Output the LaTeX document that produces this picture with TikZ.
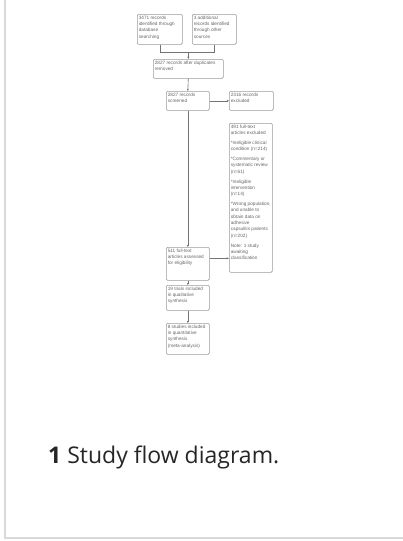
\documentclass[tikz,border=0pt]{standalone}
\usepackage{fontspec}
\setmainfont{Liberation Sans}
\newfontfamily\capfont{Open Sans}
\usetikzlibrary{arrows.meta}
\newcommand{\bxt}[3]{\parbox[c][#2][t]{#1}{\raggedright #3}}
\newcommand{\pgap}{\par\vspace{3.6pt}}
\begin{document}
\begin{tikzpicture}[x=1pt,y=-1pt,
  box/.style={draw=black!40, line width=0.6pt, rounded corners=1.2pt, inner sep=1.5pt,
    anchor=north west, font=\fontsize{4.7}{6.3}\selectfont, text=black!60},
  arr/.style={draw=black!55, line width=0.6pt, -{Stealth[length=2.4pt,width=2pt]}},
  ln/.style={draw=black!55, line width=0.6pt}]
\useasboundingbox (0,0) rectangle (403,541);
\draw[line width=2pt, color=black!15] (5,0) -- (5,538) -- (403,538);

\node[box] (A) at (137,14) {\bxt{42pt}{27pt}{3471 records\\ identified through\\ database\\ searching}};
\node[box] (B) at (192,14) {\bxt{41pt}{27pt}{3 additional\\ records identified\\ through other\\ sources}};
\node[box] (C) at (153,59) {\bxt{67pt}{16pt}{2827 records after duplicates\\ removed}};
\node[box] (D) at (166,91) {\bxt{40pt}{16pt}{2827 records\\ screened}};
\node[box] (E) at (229,91) {\bxt{41pt}{16pt}{2316 records\\ excluded}};
\node[box] (F) at (229,123) {\bxt{40pt}{146pt}{491 full-text\\ articles excluded\pgap
*Ineligible clinical\\ condition (n=214)\pgap
*Commentary or\\ systematic review\\ (n=61)\pgap
*Ineligible\\ intervention\\ (n=14)\pgap
*Wrong population,\\ and unable to\\ obtain data on\\ adhesive\\ capsulitis patients\\ (n=202)\pgap
Note: 1 study\\ awaiting\\ classification}};
\node[box] (G) at (166,247) {\bxt{40pt}{30pt}{511 full-text\\ articles assessed\\ for eligibility}};
\node[box] (H) at (166,285) {\bxt{40pt}{22pt}{19 trials included\\ in qualitative\\ synthesis}};
\node[box] (I) at (166,323) {\bxt{40pt}{28pt}{8 studies included\\ in quantitative\\ synthesis\\ (meta-analysis)}};

\coordinate (m) at (C.north |- 0,52);
\draw[ln] (A.south) -- (A.south |- m) -- (B.south |- m) -- (B.south);
\draw[arr] (m) -- (C.north);
\draw[arr] (C.south) -- (D.north);
\draw[arr] (D.east) -- (E.west);
\draw[arr] (D.south) -- (G.north);
\draw[arr] ([yshift=5.5pt]G.east) -- ([yshift=5.5pt]G.east -| F.west);
\draw[arr] (G.south) -- (H.north);
\draw[arr] (H.south) -- (I.north);

\node[anchor=base west, inner sep=0pt, font=\capfont\fontsize{23}{27}\selectfont, text=black!85] (cap) at (48,463) {\textbf{1} Study flow diagram.};
\end{tikzpicture}
\end{document}
